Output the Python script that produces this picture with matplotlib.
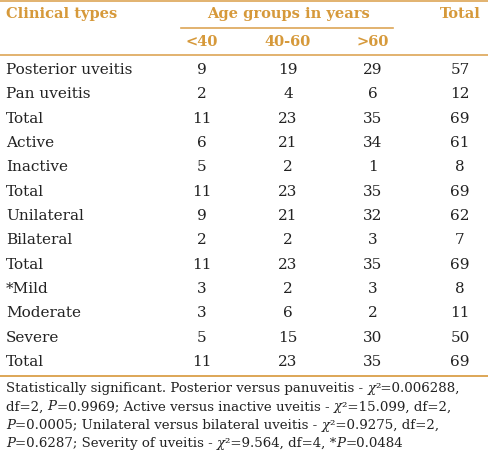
import matplotlib
matplotlib.use("Agg")
import matplotlib.pyplot as plt
from matplotlib.lines import Line2D

W, H = 488, 454
ORANGE = "#D6993A"
LINE = "#DDA656"
TEXT = "#222222"

header_main = ["Clinical types", "Age groups in years", "Total"]
age_groups = ["<40", "40-60", ">60"]
row_labels = ["Posterior uveitis", "Pan uveitis", "Total", "Active", "Inactive", "Total",
              "Unilateral", "Bilateral", "Total", "*Mild", "Moderate", "Severe", "Total"]
lt40 = [9, 2, 11, 6, 5, 11, 9, 2, 11, 3, 3, 5, 11]
a40_60 = [19, 4, 23, 21, 2, 23, 21, 2, 23, 2, 6, 15, 23]
gt60 = [29, 6, 35, 34, 1, 35, 32, 3, 35, 3, 2, 30, 35]
totals = [57, 12, 69, 61, 8, 69, 62, 7, 69, 8, 11, 50, 69]
# text between underscores is set in italics
footnote = [
    "Statistically significant. Posterior versus panuveitis - _χ_²=0.006288,",
    "df=2, _P_=0.9969; Active versus inactive uveitis - _χ_²=15.099, df=2,",
    "_P_=0.0005; Unilateral versus bilateral uveitis - _χ_²=0.9275, df=2,",
    "_P_=0.6287; Severity of uveitis - _χ_²=9.564, df=4, *_P_=0.0484",
]

fig = plt.figure(figsize=(W / 100, H / 100), dpi=100)
fig.patch.set_facecolor("white")
renderer = fig.canvas.get_renderer()

def fx(x):
    return x / W

def fy(y):
    return 1 - y / H

def hline(y, x0, x1, lw=1.2):
    fig.add_artist(Line2D([fx(x0), fx(x1)], [fy(y), fy(y)], color=LINE, lw=lw))

FONT = "DejaVu Serif"
fs = 11.0
hfs = 10.5

hline(1, 0, 488)
fig.text(fx(6), fy(14), header_main[0], color=ORANGE, fontsize=hfs, fontweight="bold",
         family=FONT, va="center", ha="left")
fig.text(fx(288), fy(14), header_main[1], color=ORANGE, fontsize=hfs, fontweight="bold",
         family=FONT, va="center", ha="center")
fig.text(fx(460), fy(14), header_main[2], color=ORANGE, fontsize=hfs, fontweight="bold",
         family=FONT, va="center", ha="center")
hline(28, 181, 393)

col_x = [202, 288, 373]
for x, g in zip(col_x, age_groups):
    fig.text(fx(x), fy(42), g, color=ORANGE, fontsize=hfs, fontweight="bold",
             family=FONT, va="center", ha="center")
hline(55, 0, 488)

y0, dy = 70, 24.33
for i, lab in enumerate(row_labels):
    y = y0 + i * dy
    fig.text(fx(6), fy(y), lab, color=TEXT, fontsize=fs, family=FONT, va="center", ha="left")
    for x, v in zip(col_x, [lt40[i], a40_60[i], gt60[i]]):
        fig.text(fx(x), fy(y), str(v), color=TEXT, fontsize=fs, family=FONT,
                 va="center", ha="center")
    fig.text(fx(460), fy(y), str(totals[i]), color=TEXT, fontsize=fs, family=FONT,
             va="center", ha="center")

hline(376, 0, 488, lw=1.4)

ffs = 9.6
for j, line in enumerate(footnote):
    x = 6.0
    y = 392 + j * 18.3
    parts = line.split("_")
    for k, part in enumerate(parts):
        if not part:
            continue
        t = fig.text(fx(x), fy(y), part, color=TEXT, fontsize=ffs, family=FONT,
                     style="italic" if k % 2 == 1 else "normal",
                     va="baseline", ha="left")
        bb = t.get_window_extent(renderer=renderer)
        x += bb.width

fig.savefig("out.png", dpi=100, facecolor="white")
